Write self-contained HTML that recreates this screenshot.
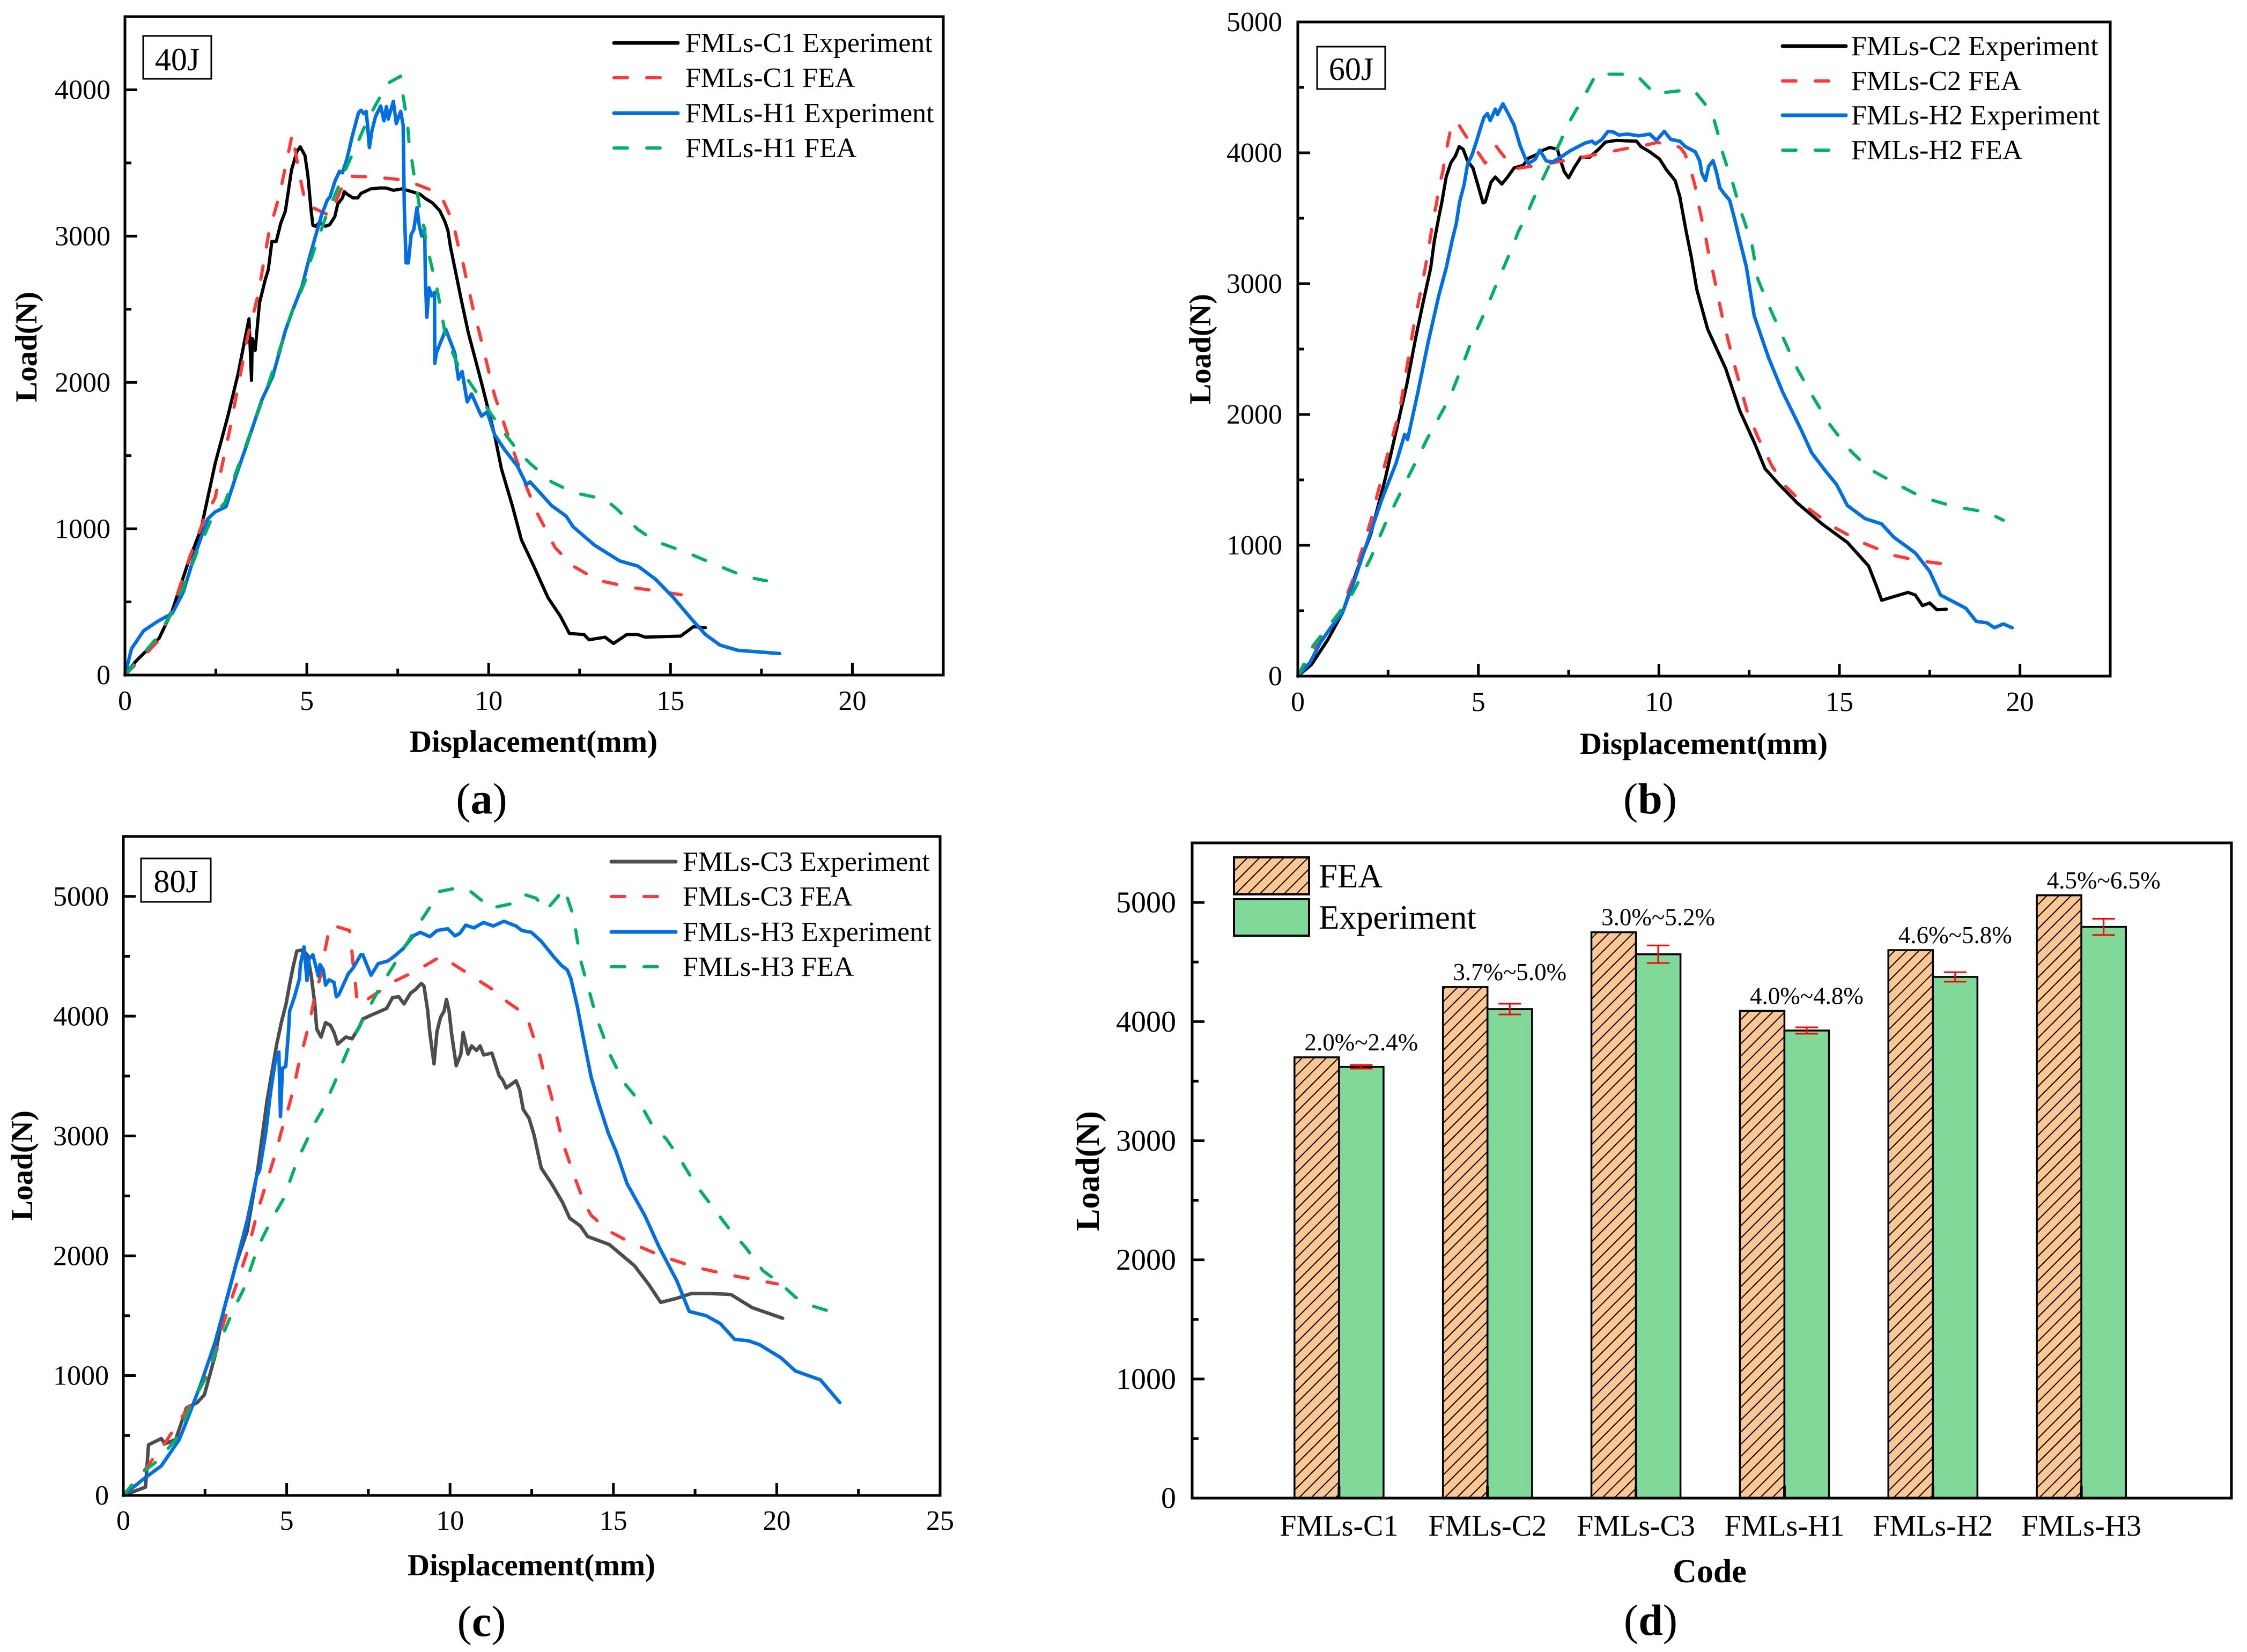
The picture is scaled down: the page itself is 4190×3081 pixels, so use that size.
<!DOCTYPE html>
<html lang="en">
<head>
<meta charset="utf-8">
<title>Load-displacement curves for FMLs specimens</title>
<style>
html,body{margin:0;padding:0;background:#fff;}
svg{display:block;}
text{font-family:"Liberation Serif","Times New Roman",serif;fill:#000;}
.title{font-weight:bold;}
</style>
</head>
<body>
<svg id="figure" xmlns="http://www.w3.org/2000/svg" width="4190" height="3081" viewBox="0 0 4190 3081">
  <defs>
    <pattern id="hatch" patternUnits="userSpaceOnUse" width="16" height="16" patternTransform="rotate(45)">
      <line x1="8" y1="0" x2="8" y2="16" stroke="#000" stroke-width="2"/>
    </pattern>
  </defs>
  <rect x="0" y="0" width="4190" height="3081" fill="#fff"/>

  <text class="title" x="995" y="1402" font-size="57" text-anchor="middle">Displacement(mm)</text>
  <text class="title" transform="translate(68 647) rotate(-90)" font-size="57" text-anchor="middle">Load(N)</text>
  <text x="898" y="1517" font-size="82" text-anchor="middle">(<tspan font-weight="bold">a</tspan>)</text>

  <text class="title" x="3177" y="1406" font-size="57" text-anchor="middle">Displacement(mm)</text>
  <text class="title" transform="translate(2257 651) rotate(-90)" font-size="57" text-anchor="middle">Load(N)</text>
  <text x="3077" y="1517" font-size="82" text-anchor="middle">(<tspan font-weight="bold">b</tspan>)</text>

  <text class="title" x="991" y="2938" font-size="57" text-anchor="middle">Displacement(mm)</text>
  <text class="title" transform="translate(60 2174) rotate(-90)" font-size="57" text-anchor="middle">Load(N)</text>
  <text x="898" y="3051" font-size="82" text-anchor="middle">(<tspan font-weight="bold">c</tspan>)</text>

  <text class="title" x="3188" y="2951" font-size="62" text-anchor="middle">Code</text>
  <text class="title" transform="translate(2049 2184) rotate(-90)" font-size="62" text-anchor="middle">Load(N)</text>
  <text x="3078" y="3049" font-size="82" text-anchor="middle">(<tspan font-weight="bold">d</tspan>)</text>
</svg>

<script>
/* ---------- Panel (a) 40J: [displacement mm, load N] ---------- */
const c1Experiment = [[0,0],[.31,97],[.94,252],[1.3,440],[1.73,763],[2.09,996],[2.48,1446],[2.83,1770],[3.11,2058],[3.41,2435],[3.48,2014],[3.5,2300],[3.58,2220],[3.7,2543],[3.86,2705],[3.94,2769],[4.04,2963],[4.16,2963],[4.28,3085],[4.41,3171],[4.58,3452],[4.73,3580],[4.82,3610],[4.95,3550],[5.03,3415],[5.12,3171],[5.17,3073],[5.24,3067],[5.34,3091],[5.51,3067],[5.63,3078],[5.77,3133],[5.85,3219],[5.98,3261],[6.03,3304],[6.1,3288],[6.27,3261],[6.4,3261],[6.49,3292],[6.76,3323],[6.99,3329],[7.18,3329],[7.38,3313],[7.62,3323],[7.87,3305],[8.11,3287],[8.26,3257],[8.46,3226],[8.66,3172],[8.8,3098],[8.88,3037],[8.95,2927],[9.1,2744],[9.24,2572],[9.44,2340],[9.8,2000],[10.16,1644],[10.35,1410],[10.65,1158],[10.9,924],[11.24,745],[11.63,529],[11.97,403],[12.22,284],[12.62,277],[12.76,241],[13.2,259],[13.43,216],[13.8,277],[14.1,277],[14.3,259],[15.28,266],[15.63,331],[15.96,324]];
const c1Fea = [[0,0],[.5,125],[.9,230],[1.3,450],[1.8,820],[2.18,1068],[2.48,1212],[2.87,1662],[3.37,2309],[3.66,2597],[3.96,3029],[4.25,3281],[4.6,3696],[4.82,3397],[4.92,3275],[4.97,3220],[5.12,3200],[5.63,3140],[5.78,3226],[5.98,3343],[6.1,3409],[6.22,3409],[6.72,3405],[7.13,3397],[7.62,3385],[7.87,3372],[8.01,3354],[8.46,3311],[8.75,3244],[8.97,3122],[9.09,3018],[9.19,2903],[9.31,2800],[9.41,2680],[9.51,2572],[9.61,2456],[9.73,2355],[10.16,1914],[10.45,1698],[10.75,1482],[11.04,1284],[11.34,1104],[11.83,870],[12.32,745],[13.01,647],[13.9,600],[14.88,565],[15.77,529]];
const h1Experiment = [[0,0],[.18,180],[.51,302],[.9,367],[1.3,421],[1.6,565],[1.89,799],[2.28,1068],[2.48,1115],[2.78,1151],[3.07,1374],[3.37,1590],[3.76,1878],[4.06,2040],[4.41,2353],[4.6,2487],[4.87,2657],[5.05,2833],[5.24,3000],[5.41,3147],[5.56,3244],[5.64,3269],[5.78,3379],[5.9,3443],[5.98,3433],[6.1,3525],[6.25,3683],[6.42,3842],[6.49,3860],[6.57,3836],[6.63,3852],[6.67,3757],[6.72,3605],[6.79,3719],[6.89,3818],[7.03,3889],[7.12,3788],[7.19,3885],[7.24,3800],[7.38,3921],[7.46,3769],[7.58,3852],[7.65,3757],[7.68,3195],[7.73,2817],[7.79,2817],[7.87,3012],[7.94,3043],[8.03,3195],[8.09,3073],[8.16,3000],[8.24,3055],[8.26,2707],[8.3,2445],[8.36,2647],[8.43,2592],[8.51,2616],[8.52,2130],[8.56,2200],[8.82,2363],[9.07,2201],[9.17,2022],[9.27,2075],[9.41,1867],[9.53,1921],[9.8,1770],[9.96,1799],[10.16,1644],[10.45,1536],[10.79,1428],[11.04,1302],[11.14,1320],[11.73,1158],[12.13,1086],[12.32,1014],[12.91,888],[13.6,780],[14.1,745],[14.59,655],[15.08,529],[15.57,385],[15.96,277],[16.36,205],[16.85,169],[17.44,158],[18,147]];
const h1Fea = [[0,0],[.87,252],[1.3,430],[1.6,600],[2,850],[2.4,1080],[2.75,1180],[3,1350],[3.4,1620],[4,2030],[4.58,2475],[4.75,2570],[4.95,2690],[5.05,2795],[5.2,2905],[5.34,3000],[5.49,3110],[5.66,3215],[5.85,3325],[6,3420],[6.2,3530],[6.38,3628],[6.57,3738],[6.76,3836],[6.99,3940],[7.18,4038],[7.58,4093],[7.63,3983],[7.71,3862],[7.77,3760],[7.81,3640],[7.88,3535],[7.95,3413],[8.03,3310],[8.1,3195],[8.2,3090],[8.28,2965],[8.37,2860],[8.48,2745],[8.58,2640],[8.67,2520],[8.82,2310],[9.17,2111],[9.47,2003],[9.96,1824],[10.35,1680],[10.85,1518],[11.14,1446],[11.73,1320],[12.32,1248],[13.2,1201],[13.5,1140],[14.1,996],[14.59,914],[15.47,835],[16.26,752],[17.05,673],[17.64,644]];

/* ---------- Panel (b) 60J ---------- */
const c2Experiment = [[0,0],[.38,89],[.83,278],[1.23,479],[1.63,801],[2.02,1083],[2.42,1506],[2.72,1868],[3.02,2230],[3.27,2593],[3.47,2854],[3.68,3119],[3.78,3324],[3.9,3501],[3.99,3624],[4.11,3815],[4.24,3925],[4.36,3973],[4.47,4048],[4.58,4027],[4.7,3938],[4.85,3884],[5.01,3733],[5.13,3617],[5.19,3624],[5.35,3774],[5.47,3815],[5.65,3761],[5.81,3815],[5.99,3884],[6.24,3904],[6.39,3959],[6.61,3986],[6.79,4020],[6.98,4041],[7.19,4027],[7.28,3938],[7.38,3856],[7.5,3809],[7.65,3884],[7.84,3966],[8.08,3966],[8.33,4027],[8.52,4082],[8.82,4095],[9.13,4091],[9.38,4089],[9.5,4048],[9.75,4007],[10.02,3952],[10.21,3870],[10.45,3788],[10.58,3665],[10.67,3529],[10.76,3392],[10.89,3214],[11.05,2955],[11.35,2653],[11.85,2351],[12.24,2029],[12.64,1787],[12.94,1586],[13.33,1465],[13.83,1324],[14.52,1163],[15.22,1022],[15.81,841],[16.01,700],[16.17,580],[16.41,600],[16.9,640],[17.1,620],[17.3,539],[17.5,560],[17.7,507],[17.96,511]];
const c2Fea = [[0,0],[.54,238],[1.13,459],[1.53,741],[2.02,1184],[2.42,1626],[2.82,2029],[3.21,2673],[3.53,3119],[3.68,3365],[3.74,3481],[3.84,3611],[3.9,3727],[4.02,3863],[4.08,3973],[4.18,4109],[4.26,4225],[4.43,4228],[4.65,4130],[4.95,4020],[5.19,3922],[5.42,3993],[5.5,4050],[5.61,4007],[5.93,3897],[5.99,3877],[6.3,3890],[6.82,3911],[7.22,3932],[7.72,3955],[8.12,3979],[8.63,4007],[9.04,4030],[9.5,4050],[9.93,4078],[10.42,4068],[10.61,4034],[10.72,3993],[10.89,3863],[11,3747],[11.09,3617],[11.18,3501],[11.29,3367],[11.36,3255],[11.47,3126],[11.75,2754],[12.04,2432],[12.44,2029],[12.74,1828],[13.13,1606],[13.53,1445],[14.13,1284],[14.82,1143],[15.62,1022],[16.51,922],[17.2,882],[17.8,861]];
const h2Experiment = [[0,0],[.34,105],[.63,258],[.93,378],[1.23,479],[1.53,700],[1.92,1022],[2.32,1345],[2.72,1626],[2.96,1848],[3.04,1808],[3.31,2150],[3.61,2552],[3.91,2915],[4.11,3119],[4.27,3324],[4.39,3460],[4.48,3624],[4.61,3761],[4.7,3911],[4.82,3979],[4.95,4089],[5.07,4198],[5.16,4273],[5.25,4300],[5.33,4246],[5.47,4334],[5.53,4293],[5.68,4375],[5.84,4293],[5.99,4212],[6.15,4061],[6.33,3938],[6.39,3918],[6.58,3952],[6.7,4020],[6.88,3938],[7.07,3932],[7.28,3966],[7.53,4013],[7.72,4041],[7.96,4075],[8.15,4089],[8.24,4068],[8.42,4102],[8.59,4164],[8.73,4160],[8.89,4136],[9.13,4143],[9.44,4130],[9.75,4143],[9.93,4095],[10.15,4164],[10.33,4102],[10.58,4089],[10.73,4048],[11.01,4007],[11.13,3938],[11.19,3843],[11.29,3788],[11.38,3897],[11.5,3941],[11.59,3856],[11.69,3733],[11.81,3686],[11.96,3638],[12.09,3501],[12.21,3365],[12.42,3132],[12.64,2754],[13.04,2432],[13.43,2170],[13.93,1888],[14.23,1707],[14.62,1566],[14.92,1465],[15.22,1304],[15.71,1204],[16.17,1163],[16.5,1063],[17.1,942],[17.5,801],[17.8,620],[18.5,519],[18.79,419],[19.09,407],[19.29,370],[19.54,399],[19.78,370]];
const h2Fea = [[0,0],[.44,238],[1.13,479],[1.53,640],[2.02,902],[2.42,1163],[2.92,1445],[3.61,1828],[4.21,2130],[4.5,2331],[4.8,2552],[5.2,2794],[5.56,3035],[5.93,3269],[6.11,3399],[6.3,3501],[6.5,3631],[6.67,3733],[6.88,3856],[7.07,3966],[7.28,4089],[7.44,4195],[7.68,4314],[7.9,4416],[8.13,4533],[8.27,4605],[8.44,4601],[8.95,4601],[9.38,4594],[9.72,4498],[9.9,4444],[10.12,4460],[10.61,4475],[10.98,4475],[11.29,4369],[11.46,4321],[11.52,4259],[11.66,4123],[11.75,4013],[11.9,3884],[12.04,3774],[12.18,3638],[12.3,3529],[12.46,3399],[12.58,3296],[12.74,3035],[13.04,2834],[13.43,2593],[13.83,2351],[14.19,2170],[14.72,1928],[15.22,1747],[15.81,1586],[16.61,1465],[17.3,1365],[18.19,1296],[19.09,1252],[19.54,1192]];

/* ---------- Panel (c) 80J ---------- */
const c3Experiment = [[0,0],[.39,40],[.68,70],[.77,422],[1.16,475],[1.27,431],[1.6,466],[1.93,730],[2.26,775],[2.48,840],[2.81,1170],[3.07,1545],[3.46,1941],[3.79,2205],[4.12,2733],[4.4,3296],[4.54,3520],[4.69,3759],[4.84,3953],[4.98,4102],[5.09,4267],[5.2,4416],[5.31,4543],[5.5,4554],[5.64,4506],[5.75,4341],[5.86,4102],[5.92,3893],[6.05,3826],[6.19,3946],[6.34,3923],[6.45,3864],[6.56,3767],[6.81,3826],[7,3811],[7.22,3908],[7.33,3976],[7.62,4013],[8.06,4065],[8.24,4155],[8.43,4162],[8.59,4102],[8.79,4192],[8.94,4222],[9.12,4274],[9.2,4252],[9.31,4058],[9.38,3864],[9.51,3602],[9.6,3871],[9.71,3990],[9.82,4043],[9.89,4140],[9.97,4043],[10.05,3849],[10.19,3587],[10.33,3684],[10.4,3864],[10.55,3684],[10.66,3752],[10.81,3714],[10.92,3752],[11.03,3677],[11.28,3692],[11.43,3565],[11.5,3505],[11.61,3468],[11.72,3401],[12.02,3460],[12.13,3386],[12.24,3221],[12.42,3147],[12.57,3010],[12.79,2733],[13.11,2601],[13.44,2447],[13.66,2315],[13.99,2249],[14.21,2161],[14.87,2095],[15.64,1919],[16.07,1765],[16.45,1611],[16.95,1646],[17.39,1686],[17.94,1686],[18.6,1677],[19.25,1567],[20.18,1479]];
const c3Fea = [[0,0],[.29,92],[.61,198],[1.27,436],[1.71,620],[2.15,797],[2.59,1017],[3.14,1500],[3.79,2029],[4.12,2381],[4.67,2865],[4.84,3042],[4.98,3162],[5.13,3311],[5.24,3430],[5.35,3580],[5.61,3856],[5.72,3976],[5.83,4125],[5.95,4252],[6.1,4401],[6.15,4521],[6.26,4670],[6.31,4752],[6.48,4752],[6.92,4715],[6.98,4588],[7.03,4439],[7.09,4312],[7.14,4162],[7.17,4102],[7.44,4135],[7.88,4214],[8.28,4289],[8.79,4356],[9.2,4416],[9.71,4498],[10.07,4439],[10.55,4356],[10.95,4285],[11.39,4207],[11.76,4117],[12.16,4043],[12.42,3938],[12.6,3789],[12.75,3669],[12.88,3520],[13.03,3401],[13.18,3251],[13.3,3124],[13.44,2953],[13.77,2689],[14.1,2447],[14.32,2337],[14.87,2205],[15.64,2095],[16.51,1994],[17.5,1906],[18.48,1844],[20.02,1765]];
const h3Experiment = [[0,0],[.61,136],[1.16,246],[1.71,466],[1.97,643],[2.37,929],[2.81,1281],[3.25,1721],[3.79,2293],[4.08,2667],[4.17,2711],[4.36,3027],[4.51,3371],[4.65,3625],[4.76,3700],[4.81,3162],[4.87,3565],[4.97,3580],[5.06,3893],[5.09,4043],[5.24,4162],[5.39,4312],[5.42,4431],[5.53,4578],[5.62,4297],[5.68,4476],[5.8,4513],[5.97,4334],[6.02,4431],[6.12,4386],[6.19,4259],[6.3,4304],[6.45,4282],[6.52,4162],[6.59,4177],[6.89,4356],[7.03,4401],[7.27,4513],[7.33,4513],[7.58,4342],[7.8,4438],[8.1,4461],[8.32,4506],[8.57,4565],[8.87,4670],[9.09,4700],[9.38,4663],[9.6,4715],[9.93,4730],[10.15,4670],[10.3,4692],[10.48,4760],[10.73,4737],[11.03,4782],[11.32,4752],[11.65,4792],[12.02,4752],[12.2,4715],[12.49,4700],[12.79,4625],[13.19,4491],[13.41,4424],[13.59,4386],[13.7,4312],[13.89,4088],[14.1,3789],[14.32,3490],[14.54,3281],[14.84,3027],[15.09,2865],[15.42,2601],[15.96,2337],[16.4,2073],[16.95,1787],[17.32,1536],[17.83,1501],[18.27,1435],[18.71,1303],[19.14,1290],[19.47,1259],[20.13,1149],[20.57,1039],[21.34,964],[21.93,775]];
const h3Fea = [[0,0],[.29,97],[.61,198],[1.05,290],[1.6,466],[2.15,797],[2.59,1017],[2.92,1259],[3.36,1545],[3.68,1721],[4.12,2073],[4.56,2315],[4.89,2469],[5.33,2799],[5.68,3000],[5.8,3080],[6.07,3206],[6.27,3326],[6.49,3460],[6.67,3587],[6.89,3729],[7.07,3834],[7.34,3975],[7.55,4085],[7.8,4214],[8.05,4326],[8.34,4453],[8.57,4558],[8.87,4692],[9.12,4800],[9.42,4924],[9.67,5040],[10.19,5069],[10.55,5058],[10.99,4961],[11.25,4894],[11.43,4912],[11.88,4939],[12.25,5017],[12.64,4984],[12.93,4882],[13.28,4991],[13.5,5066],[13.56,5013],[13.74,4867],[13.83,4742],[13.92,4595],[14,4464],[14.14,4323],[14.27,4200],[14.41,4058],[14.56,3931],[14.75,3792],[14.91,3672],[15.13,3550],[15.37,3430],[15.75,3305],[16.18,3094],[16.62,2975],[17.06,2799],[17.5,2601],[18.05,2403],[18.6,2205],[19.04,2073],[19.58,1875],[20.13,1765],[20.57,1655],[21,1589],[21.93,1510]];

/* ---------- Panel (d) peak loads ---------- */
const codeCategories = ['FMLs-C1','FMLs-C2','FMLs-C3','FMLs-H1','FMLs-H2','FMLs-H3'];
const feaPeakLoad = [3700,4290,4750,4090,4600,5060];
const experimentPeakLoad = [3620,4105,4565,3925,4375,4795];
const experimentError = [15,45,74,27,40,68];
const errorRangeLabels = ['2.0%~2.4%','3.7%~5.0%','3.0%~5.2%','4.0%~4.8%','4.6%~5.8%','4.5%~6.5%'];

/* ---------- Tick values ---------- */
const xMajorTicks40 = [0,5,10,15,20];
const xMinorTicks40 = [2.5,7.5,12.5,17.5];
const yMajorTicks40 = [0,1000,2000,3000,4000];
const yMinorTicks40 = [500,1500,2500,3500];
const xMajorTicks60 = [0,5,10,15,20];
const xMinorTicks60 = [2.5,7.5,12.5,17.5];
const yMajorTicks60 = [0,1000,2000,3000,4000,5000];
const yMinorTicks60 = [500,1500,2500,3500,4500];
const xMajorTicks80 = [0,5,10,15,20,25];
const xMinorTicks80 = [2.5,7.5,12.5,17.5,22.5];
const yMajorTicks80 = [0,1000,2000,3000,4000,5000];
const yMinorTicks80 = [500,1500,2500,3500,4500];
const yMajorTicksCode = [0,1000,2000,3000,4000,5000];
const yMinorTicksCode = [500,1500,2500,3500,4500];

const SVG_NS = 'http://www.w3.org/2000/svg';
const figure = document.getElementById('figure');
const BLACK = '#000000', GREY = '#4d4d4d', RED = '#ff3838', BLUE = '#006fe3', GREEN = '#00b065';
const DASH = '25 36';

function make(tag, parent, attrs) {
  const el = document.createElementNS(SVG_NS, tag);
  for (const k in attrs) el.setAttribute(k, attrs[k]);
  parent.appendChild(el);
  return el;
}

function drawTicks(group, isX, values, base, scale, length, name) {
  values.forEach(function (v) {
    const p = scale(v);
    const tick = make('line', group, isX
      ? {x1: p, x2: p, y1: base, y2: base - length, stroke: '#000', 'stroke-width': 5}
      : {x1: base, x2: base + length, y1: p, y2: p, stroke: '#000', 'stroke-width': 5});
    
    
  });
}

function drawTickLabels(group, isX, values, labels, scale, anchorPos, size, name) {
  values.forEach(function (v, i) {
    const t = make('text', group, isX
      ? {x: scale(v), y: anchorPos, 'text-anchor': 'middle', 'font-size': size}
      : {x: anchorPos, y: scale(v) + size * 0.33, 'text-anchor': 'end', 'font-size': size});
    t.textContent = labels[i];
    
    
  });
}

function drawFrame(group, g) {
  const frame = make('rect', group, {x: g.left, y: g.top, width: g.right - g.left, height: g.bottom - g.top, fill: 'none', stroke: '#000', 'stroke-width': 5});
  
  
}

function linePath(points, xs, ys) {
  return points.map(function (p, i) {
    return (i ? 'L' : 'M') + xs(p[0]).toFixed(1) + ' ' + ys(p[1]).toFixed(1);
  }).join('');
}

function drawCurvePanel(p) {
  const g = p.geom;
  const group = make('g', figure, {});
  
  
  const xs = function (v) { return g.left + (v / g.xMax) * (g.right - g.left); };
  const ys = function (v) { return g.bottom - (v / g.yMax) * (g.bottom - g.top); };

  p.series.forEach(function (s) {
    const path = make('path', group, {
      d: linePath(s.data, xs, ys), fill: 'none', stroke: s.color,
      'stroke-width': s.dashed ? 6 : s.width,
      'stroke-linejoin': 'round', 'stroke-linecap': 'round'
    });
    if (s.dashed) path.setAttribute('stroke-dasharray', DASH);
    
    
  });

  drawTicks(group, true, p.xMajor, g.bottom, xs, 23, 'x-major-tick');
  drawTicks(group, true, p.xMinor, g.bottom, xs, 12, 'x-minor-tick');
  drawTicks(group, false, p.yMajor, g.left, ys, 23, 'y-major-tick');
  drawTicks(group, false, p.yMinor, g.left, ys, 12, 'y-minor-tick');
  drawFrame(group, g);
  drawTickLabels(group, true, p.xMajor, p.xMajor.map(String), xs, p.xLabelY, 52, 'x-tick-label');
  drawTickLabels(group, false, p.yMajor, p.yMajor.map(String), ys, p.yLabelX, 52, 'y-tick-label');

  const box = make('rect', group, {x: p.box.x, y: p.box.y, width: p.box.w, height: p.box.h, fill: '#fff', stroke: '#000', 'stroke-width': 3});
  
  
  const boxText = make('text', group, {x: p.box.x + p.box.w / 2, y: p.box.base, 'text-anchor': 'middle', 'font-size': 60});
  boxText.textContent = p.box.text;
  
  

  p.series.forEach(function (s, i) {
    const entry = make('g', group, {});
    
    
    const y = p.legend.ys[i];
    const sample = make('line', entry, {
      x1: p.legend.x1, x2: s.dashed ? p.legend.x2 - 20 : p.legend.x2, y1: y, y2: y, stroke: s.color,
      'stroke-width': s.dashed ? 6 : 7, 'stroke-linecap': 'round'
    });
    if (s.dashed) sample.setAttribute('stroke-dasharray', DASH);
    
    
    const label = make('text', entry, {x: p.legend.tx, y: y + 17, 'font-size': 52});
    label.textContent = s.label;
    
    
  });
}

drawCurvePanel({
  name: 'panel-a-40j', geom: {left: 233, right: 1759, top: 31, bottom: 1259, xMax: 22.5, yMax: 4500},
  xMajor: xMajorTicks40, xMinor: xMinorTicks40, yMajor: yMajorTicks40, yMinor: yMinorTicks40,
  xLabelY: 1324, yLabelX: 206,
  box: {x: 267, y: 67, w: 127, h: 80, base: 131, text: '40J'},
  legend: {x1: 1145, x2: 1264, tx: 1278, ys: [80, 145, 211, 276]},
  series: [
    {id: 'fmls-c1-experiment', label: 'FMLs-C1 Experiment', data: c1Experiment, color: BLACK, width: 6},
    {id: 'fmls-c1-fea', label: 'FMLs-C1 FEA', data: c1Fea, color: RED, dashed: true},
    {id: 'fmls-h1-experiment', label: 'FMLs-H1 Experiment', data: h1Experiment, color: BLUE, width: 6.5},
    {id: 'fmls-h1-fea', label: 'FMLs-H1 FEA', data: h1Fea, color: GREEN, dashed: true}
  ]
});

drawCurvePanel({
  name: 'panel-b-60j', geom: {left: 2420, right: 3935, top: 41, bottom: 1261, xMax: 22.5, yMax: 5000},
  xMajor: xMajorTicks60, xMinor: xMinorTicks60, yMajor: yMajorTicks60, yMinor: yMinorTicks60,
  xLabelY: 1326, yLabelX: 2391,
  box: {x: 2456, y: 87, w: 127, h: 79, base: 149, text: '60J'},
  legend: {x1: 3324, x2: 3442, tx: 3452, ys: [86, 151, 215, 280]},
  series: [
    {id: 'fmls-c2-experiment', label: 'FMLs-C2 Experiment', data: c2Experiment, color: BLACK, width: 6},
    {id: 'fmls-c2-fea', label: 'FMLs-C2 FEA', data: c2Fea, color: RED, dashed: true},
    {id: 'fmls-h2-experiment', label: 'FMLs-H2 Experiment', data: h2Experiment, color: BLUE, width: 6.5},
    {id: 'fmls-h2-fea', label: 'FMLs-H2 FEA', data: h2Fea, color: GREEN, dashed: true}
  ]
});

drawCurvePanel({
  name: 'panel-c-80j', geom: {left: 230, right: 1753, top: 1560, bottom: 2789, xMax: 25, yMax: 5500},
  xMajor: xMajorTicks80, xMinor: xMinorTicks80, yMajor: yMajorTicks80, yMinor: yMinorTicks80,
  xLabelY: 2853, yLabelX: 203,
  box: {x: 263, y: 1601, w: 130, h: 81, base: 1664, text: '80J'},
  legend: {x1: 1140, x2: 1260, tx: 1273, ys: [1607, 1672, 1738, 1803]},
  series: [
    {id: 'fmls-c3-experiment', label: 'FMLs-C3 Experiment', data: c3Experiment, color: GREY, width: 6.5},
    {id: 'fmls-c3-fea', label: 'FMLs-C3 FEA', data: c3Fea, color: RED, dashed: true},
    {id: 'fmls-h3-experiment', label: 'FMLs-H3 Experiment', data: h3Experiment, color: BLUE, width: 6.5},
    {id: 'fmls-h3-fea', label: 'FMLs-H3 FEA', data: h3Fea, color: GREEN, dashed: true}
  ]
});

/* ---------- Bar panel ---------- */
(function () {
  const g = {left: 2223, right: 4161, top: 1572, bottom: 2794, xMax: 7, yMax: 5500};
  const originX = 2220;
  const FEA_FILL = '#fdc793', EXP_FILL = '#80d899';
  const group = make('g', figure, {});
  
  
  const xs = function (v) { return originX + (v / g.xMax) * (g.right - g.left); };
  const ys = function (v) { return g.bottom - (v / g.yMax) * (g.bottom - g.top); };
  const barWidth = xs(0.3) - xs(0);

  codeCategories.forEach(function (cat, i) {
    const center = xs(i + 1);
    const feaTop = ys(feaPeakLoad[i]);
    const expTop = ys(experimentPeakLoad[i]);

    const feaBar = make('rect', group, {x: center - barWidth, y: feaTop, width: barWidth, height: g.bottom - feaTop, fill: FEA_FILL, stroke: 'none'});
    
    
    const feaHatch = make('rect', group, {x: center - barWidth, y: feaTop, width: barWidth, height: g.bottom - feaTop, fill: 'url(#hatch)', stroke: '#000', 'stroke-width': 3.5});
    
    

    const expBar = make('rect', group, {x: center, y: expTop, width: barWidth, height: g.bottom - expTop, fill: EXP_FILL, stroke: '#000', 'stroke-width': 3.5});
    
    

    const errX = center + barWidth / 2;
    const errHi = ys(experimentPeakLoad[i] + experimentError[i]);
    const errLo = ys(experimentPeakLoad[i] - experimentError[i]);
    const errorBar = make('path', group, {
      d: 'M' + errX + ' ' + errHi + 'V' + errLo + 'M' + (errX - 21) + ' ' + errHi + 'H' + (errX + 21) + 'M' + (errX - 21) + ' ' + errLo + 'H' + (errX + 21),
      fill: 'none', stroke: '#ff0000', 'stroke-width': 3
    });
    
    

    const rangeLabel = make('text', group, {x: errX, y: feaTop - 13, 'text-anchor': 'middle', 'font-size': 45});
    rangeLabel.textContent = errorRangeLabels[i];
    
    
  });

  const categoryPositions = codeCategories.map(function (c, i) { return i + 1; });
  drawTicks(group, true, categoryPositions, g.bottom, xs, 23, 'x-major-tick');
  const ysFrame = ys;
  drawTicks(group, false, yMajorTicksCode, g.left, ysFrame, 23, 'y-major-tick');
  drawTicks(group, false, yMinorTicksCode, g.left, ysFrame, 12, 'y-minor-tick');
  drawFrame(group, g);
  drawTickLabels(group, true, categoryPositions, codeCategories, xs, 2864, 56, 'category-label');
  drawTickLabels(group, false, yMajorTicksCode, yMajorTicksCode.map(String), ys, 2193, 56, 'y-tick-label');

  const feaSwatch = make('rect', group, {x: 2301, y: 1599, width: 140, height: 69, fill: FEA_FILL, stroke: 'none'});
  
  
  const feaSwatchHatch = make('rect', group, {x: 2301, y: 1599, width: 140, height: 69, fill: 'url(#hatch)', stroke: '#000', 'stroke-width': 4});
  
  
  const expSwatch = make('rect', group, {x: 2301, y: 1677, width: 140, height: 68, fill: EXP_FILL, stroke: '#000', 'stroke-width': 4});
  
  
  const feaLabel = make('text', group, {x: 2459, y: 1655, 'font-size': 63});
  feaLabel.textContent = 'FEA';
  
  
  const expLabel = make('text', group, {x: 2459, y: 1732, 'font-size': 63});
  expLabel.textContent = 'Experiment';
  
  
})();
</script>
</body>
</html>
